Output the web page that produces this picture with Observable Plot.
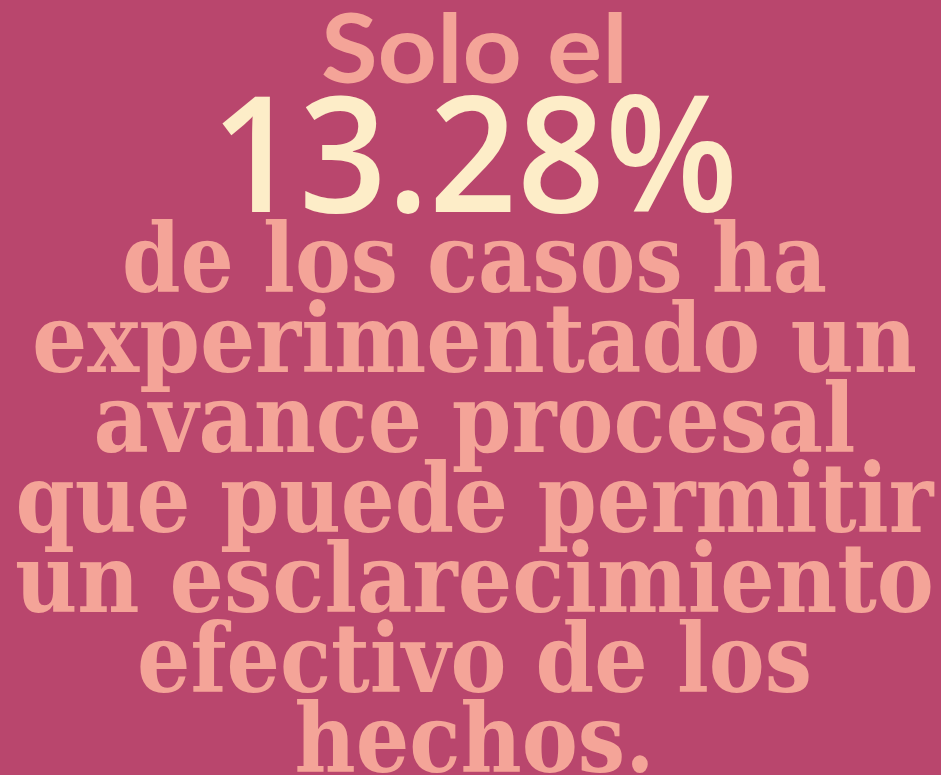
<!DOCTYPE html>
<html><head><meta charset="utf-8">
<script src="https://cdn.jsdelivr.net/npm/d3@7"></script>
<script src="https://cdn.jsdelivr.net/npm/@observablehq/plot@0.6"></script>
<style>
html,body{margin:0;padding:0;background:#B9466D;overflow:hidden;}
#chart{width:941px;height:775px;}
</style></head><body><div id="chart"></div>
<script>
// ---- text content ----
const introLines = ["Solo el"];
const figureLines = ["13.28%"];
const bodyLines = [
  "de los casos ha",
  "experimentado un",
  "avance procesal",
  "que puede permitir",
  "un esclarecimiento",
  "efectivo de los",
  "hechos."
];

// ---- layout / style (not data) ----
const layout = {
  width: 941, height: 775, bg: "#B9466D",
  salmon: "#F4A498", cream: "#FDEDC8",
  introFont: "Lato, 'Open Sans', sans-serif",
  figureFont: "'Open Sans', Lato, sans-serif",
  slab: "'DejaVu Serif', serif",
  introSize: 96, figureSize: 162, bodySize: 96,
  introBaseline: 82, figureBaseline: 211, bodyFirstBaseline: 291, bodyStep: 80,
  introWidths: [307],
  figureWidths: [527],
  bodyWidths: [705, 885, 762, 918, 919, 675, 360]
};

const rows = [
  ...introLines.map((t, i) => ({text: t, group: "intro", y: layout.introBaseline})),
  ...figureLines.map((t, i) => ({text: t, group: "figure", y: layout.figureBaseline})),
  ...bodyLines.map((t, i) => ({text: t, group: "body", y: layout.bodyFirstBaseline + i * layout.bodyStep}))
];

const chart = Plot.plot({
  width: layout.width,
  height: layout.height,
  marginLeft: 7, marginRight: 0, marginTop: 0, marginBottom: 0,
  style: {background: layout.bg, overflow: "visible"},
  x: {axis: null, domain: [0, 1]},
  y: {axis: null, domain: [0, layout.height], range: [0, layout.height]},
  marks: [
    Plot.text(rows.filter(d => d.group === "intro"), {
      frameAnchor: "middle", y: "y", text: "text", lineAnchor: "bottom",
      fontSize: layout.introSize, fontFamily: layout.introFont, fontWeight: 700,
      fill: layout.salmon
    }),
    Plot.text(rows.filter(d => d.group === "figure"), {
      frameAnchor: "middle", y: "y", text: "text", lineAnchor: "bottom",
      fontSize: layout.figureSize, fontFamily: layout.figureFont, fontWeight: 600,
      fill: layout.cream
    }),
    Plot.text(rows.filter(d => d.group === "body"), {
      frameAnchor: "middle", y: "y", text: "text", lineAnchor: "bottom",
      fontSize: layout.bodySize, fontFamily: layout.slab, fontWeight: 700,
      fill: layout.salmon
    })
  ]
});

// fit each line to the reference width
const groups = chart.querySelectorAll('g[aria-label="text"]');
const widthSets = [layout.introWidths, layout.figureWidths, layout.bodyWidths];
groups.forEach((g, gi) => {
  g.querySelectorAll("text").forEach((t, i) => {
    const w = widthSets[gi][i];
    if (w) { t.setAttribute("textLength", w); t.setAttribute("lengthAdjust", "spacingAndGlyphs"); }
  });
});

document.getElementById("chart").appendChild(chart);
</script>
</body></html>
